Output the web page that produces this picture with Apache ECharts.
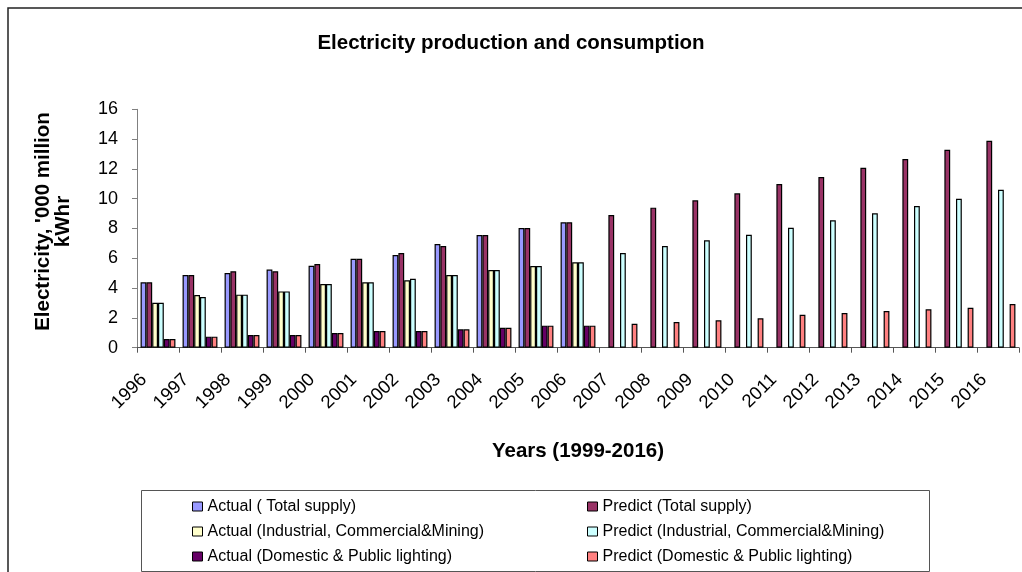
<!DOCTYPE html>
<html>
<head>
<meta charset="utf-8">
<title>Electricity production and consumption</title>
<script src="https://cdn.jsdelivr.net/npm/echarts@6/dist/echarts.min.js"></script>
<style>
  html, body { margin: 0; padding: 0; background: #fff; }
  #chart { width: 1022px; height: 572px; }
</style>
</head>
<body>
<div id="chart"></div>
<script>
// 数据
const years = ['1996', '1997', '1998', '1999', '2000', '2001', '2002', '2003', '2004', '2005', '2006',
  '2007', '2008', '2009', '2010', '2011', '2012', '2013', '2014', '2015', '2016'];

const actualTotal = [4.39, 4.88, 5.01, 5.24, 5.50, 5.97, 6.22, 6.96, 7.56, 8.03, 8.42,
  null, null, null, null, null, null, null, null, null, null];
const predictTotal = [4.39, 4.88, 5.13, 5.13, 5.62, 5.97, 6.36, 6.83, 7.56, 8.03, 8.42,
  8.91, 9.40, 9.89, 10.36, 10.99, 11.46, 12.08, 12.66, 13.29, 13.89];
const actualIndustrial = [3.02, 3.54, 3.56, 3.78, 4.28, 4.39, 4.52, 4.88, 5.21, 5.48, 5.73,
  null, null, null, null, null, null, null, null, null, null];
const predictIndustrial = [3.02, 3.40, 3.56, 3.78, 4.28, 4.39, 4.63, 4.88, 5.21, 5.48, 5.73,
  6.36, 6.83, 7.21, 7.58, 8.05, 8.55, 9.02, 9.51, 10.00, 10.60];
const actualDomestic = [0.58, 0.74, 0.85, 0.85, 0.99, 1.12, 1.12, 1.23, 1.34, 1.48, 1.48,
  null, null, null, null, null, null, null, null, null, null];
const predictDomestic = [0.58, 0.74, 0.85, 0.85, 0.99, 1.12, 1.12, 1.23, 1.34, 1.48, 1.48,
  1.61, 1.72, 1.84, 1.97, 2.21, 2.33, 2.46, 2.58, 2.68, 2.93];

const yTicks = { min: 0, max: 16, interval: 2 };

const FONT = '"Liberation Sans", Arial, sans-serif';

const myChart = echarts.init(document.getElementById('chart'), null, { renderer: 'canvas' });

function bar(name, data, color) {
  return {
    name: name,
    type: 'bar',
    data: data,
    barGap: '0%',
    barCategoryGap: '17%',
    itemStyle: { color: color, borderColor: '#000', borderWidth: 1.2 },
    emphasis: { disabled: true }
  };
}

const legendCommon = {
  orient: 'vertical',
  icon: 'rect',
  itemWidth: 10,
  itemHeight: 9,
  itemGap: 9,
  selectedMode: false,
  textStyle: { fontFamily: FONT, fontSize: 16, color: '#000', lineHeight: 16 },
  itemStyle: { borderColor: '#000', borderWidth: 1 }
};

const option = {
  backgroundColor: '#fff',
  animation: false,
  title: {
    text: 'Electricity production and consumption',
    left: 'center',
    top: 28,
    textStyle: { fontFamily: FONT, fontSize: 20.5, fontWeight: 'bold', color: '#000' }
  },
  graphic: [
    // 外框
    { type: 'rect', shape: { x: 8, y: 8, width: 1200, height: 800 }, style: { fill: null, stroke: '#222', lineWidth: 1.5 }, silent: true },
    // 图例框
    { type: 'rect', shape: { x: 141.5, y: 490.5, width: 788, height: 81 }, style: { fill: null, stroke: '#555', lineWidth: 1 }, silent: true }
  ],
  legend: [
    Object.assign({}, legendCommon, {
      left: 187,
      top: 493.5,
      data: ['Actual ( Total supply)', 'Actual (Industrial, Commercial&Mining)', 'Actual (Domestic & Public lighting)']
    }),
    Object.assign({}, legendCommon, {
      left: 582,
      top: 493.5,
      data: ['Predict (Total supply)', 'Predict (Industrial, Commercial&Mining)', 'Predict (Domestic & Public lighting)']
    })
  ],
  grid: { left: 137, right: 3, top: 109.3, bottom: 224.3, containLabel: false },
  xAxis: {
    type: 'category',
    data: years,
    name: 'Years (1999-2016)',
    nameLocation: 'middle',
    nameGap: 93,
    nameTextStyle: { fontFamily: FONT, fontSize: 20.5, fontWeight: 'bold', color: '#000' },
    axisLine: { lineStyle: { color: '#555', width: 1 } },
    axisTick: { show: true, length: 5, interval: 0, lineStyle: { color: '#555' } },
    axisLabel: { interval: 0, rotate: 45, margin: 15, fontFamily: FONT, fontSize: 18.5, color: '#000', padding: [0, 20, 0, 0] },
    splitLine: { show: false }
  },
  yAxis: {
    type: 'value',
    min: yTicks.min,
    max: yTicks.max,
    interval: yTicks.interval,
    name: "Electricity, '000 million\nkWhr",
    nameLocation: 'middle',
    nameRotate: 90,
    nameGap: 64,
    nameTextStyle: { fontFamily: FONT, fontSize: 20.5, fontWeight: 'bold', color: '#000', lineHeight: 20, padding: [0, 0, 0, 14] },
    axisLine: { show: true, lineStyle: { color: '#808080', width: 1 } },
    axisTick: { show: true, length: 5, lineStyle: { color: '#808080' } },
    axisLabel: { margin: 19, fontFamily: FONT, fontSize: 18, color: '#000' },
    splitLine: { show: false }
  },
  series: [
    bar('Actual ( Total supply)', actualTotal, '#9999FF'),
    bar('Predict (Total supply)', predictTotal, '#993366'),
    bar('Actual (Industrial, Commercial&Mining)', actualIndustrial, '#FFFFCC'),
    bar('Predict (Industrial, Commercial&Mining)', predictIndustrial, '#CCFFFF'),
    bar('Actual (Domestic & Public lighting)', actualDomestic, '#660066'),
    bar('Predict (Domestic & Public lighting)', predictDomestic, '#FF8080')
  ]
};

myChart.setOption(option);
</script>
</body>
</html>
